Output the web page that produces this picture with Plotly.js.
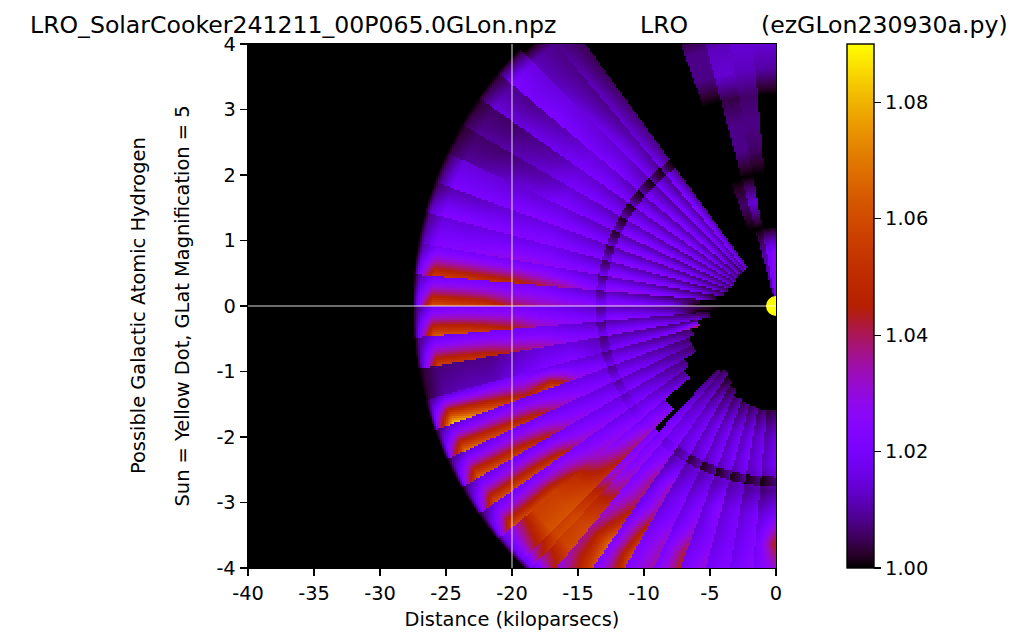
<!DOCTYPE html>
<html><head><meta charset="utf-8">
<script src="https://cdn.plot.ly/plotly-3.0.1.min.js"></script>
<style>html,body{margin:0;padding:0;background:#fff}#c{width:1024px;height:644px}</style></head>
<body><div id="c"></div>
<script>
const chartTitle = "LRO_SolarCooker241211_00P065.0GLon.npz";
const centerNote = "LRO";
const rightNote = "(ezGLon230930a.py)";
const xTitle = "Distance (kiloparsecs)";
const yTitleLines = ["Possible Galactic Atomic Hydrogen", "Sun = Yellow Dot, GLat Magnification = 5"];
const xTicks = [-40,-35,-30,-25,-20,-15,-10,-5,0];
const yTicks = [-4,-3,-2,-1,0,1,2,3,4];
const cbTicks = [1.00,1.02,1.04,1.06,1.08];

// radial sample positions (kpc along the display radius)
const radii = [2,4,6,8,10,12,14,16,18,20,22,24,26,27.1];
// sector edges, degrees above (+) or below (-) the Sun's line of sight
const sectorTop =    [90,85,80,75,54,50,45,40,35,30,25,20,15,10,5,0,-5,-10,-15,-20,-25,-30,-35,-40,-45,-47,-50,-55,-60,-65,-70,-75,-80,-85];
const sectorBottom = [85,80,75,70,50,45,40,35,30,25,20,15,10,5,0,-5,-10,-15,-20,-25,-30,-35,-40,-45,-47,-50,-55,-60,-65,-70,-75,-80,-85,-90];
const sectorInner =  [0,0,0,0,3.6,3.6,3.6,3.6,3.6,3.6,3.7,3.8,4,4.6,5.8,3.8,5,6,6.6,7,7,8,8.5,11,13,6.5,6.2,6.5,7,7.5,7.7,7.8,7.9,7.9];
// depth of the dark ring near 13.2 kpc in each sector
const ringDepth = [0,0,0,0,.9,.9,.9,.9,.9,.85,.8,.7,.6,.5,.4,.4,.4,.4,.4,.35,.3,.2,.1,.05,.05,.05,.2,.4,.7,.85,.9,.9,.9,.9];
// values are (brightness - 1) x 1000 along the upper edge of each sector
const upperEdge = [
[24,24,0,0,0,0,0,0,10,14,8,0,0,0],
[20,20,0,0,0,6,8,6,12,14,0,0,0,0],
[10,10,0,14,0,8,8,4,14,12,0,0,0,0],
[0,0,0,6,0,0,0,0,8,8,0,0,0,0],
[0,10,10,10,9,8,8,8,7,6,5,5,5,0],
[0,8,10,10,9,9,9,10,9,8,8,8,8,0],
[0,6,9,10,10,10,11,14,14,15,16,15,16,5],
[0,6,8,10,10,10,11,14,15,12,10,8,9,4],
[0,6,8,10,10,11,11,13,14,10,8,6,6,3],
[0,6,8,8,10,11,11,13,14,10,8,6,6,3],
[0,5,7,8,10,10,11,13,15,14,14,15,15,6],
[0,5,7,8,10,10,12,14,16,15,14,12,11,6],
[0,4,6,8,10,11,12,15,17,16,16,15,15,8],
[0,0,6,7,10,12,13,16,20,19,19,19,19,10],
[0,0,5,6,9,11,13,16,20,20,20,20,18,10],
[0,0,5,7,10,11,13,16,18,20,20,20,18,8],
[0,0,5,7,10,10,12,15,18,18,19,18,16,8],
[0,0,5,7,9,10,12,15,15,12,8,8,7,3],
[0,0,4,7,9,11,13,15,17,20,18,16,15,8],
[0,0,4,7,10,12,14,16,17,18,18,16,14,8],
[0,0,4,7,10,12,14,16,17,18,18,16,14,8],
[0,0,4,7,10,13,15,17,18,18,18,17,15,8],
[0,0,4,7,10,14,16,18,20,22,20,18,16,8],
[0,0,4,8,12,16,20,24,34,50,56,56,30,14],
[0,0,4,8,14,18,20,22,30,48,56,56,34,16],
[0,0,4,8,14,18,20,22,30,48,56,56,34,16],
[0,0,4,8,12,16,18,20,24,30,36,36,28,16],
[0,0,0,6,12,14,10,14,16,20,22,22,20,16],
[0,0,0,6,11,12,10,14,16,20,22,22,20,16],
[0,0,0,6,11,12,10,14,16,20,22,22,20,16],
[0,0,0,5,11,12,10,14,15,18,20,20,20,16],
[0,0,0,5,11,12,10,14,15,18,20,20,20,16],
[0,0,0,4,11,12,8,14,16,18,20,20,20,16],
[0,0,0,3,10,12,6,14,18,20,20,20,20,16]];
// same, along the lower edge of each sector
const lowerEdge = [
[24,24,0,0,0,0,0,0,10,14,8,0,0,0],
[20,20,0,0,0,6,8,6,12,14,0,0,0,0],
[10,10,0,14,0,8,8,4,14,12,0,0,0,0],
[0,0,0,6,0,0,0,0,8,8,0,0,0,0],
[0,20,24,26,26,22,18,15,14,13,12,10,8,0],
[0,18,24,25,26,22,20,20,18,16,14,12,12,0],
[0,16,24,25,25,22,20,22,20,21,22,20,22,8],
[0,16,22,25,25,24,22,22,20,18,17,15,15,6],
[0,16,22,25,25,24,22,22,20,15,12,10,9,5],
[0,16,22,25,26,26,22,22,22,16,14,11,9,5],
[0,14,20,25,26,26,24,24,24,24,22,21,21,8],
[0,12,20,25,26,27,24,24,25,24,24,24,24,14],
[0,10,20,25,26,28,26,26,28,30,27,25,24,12],
[0,0,18,25,28,30,27,36,42,50,52,54,55,22],
[0,0,0,20,24,28,28,32,36,42,54,58,62,22],
[0,0,0,18,22,26,24,28,34,46,54,60,64,20],
[0,0,14,20,24,26,24,28,36,42,50,54,57,16],
[0,0,45,22,22,22,16,24,22,18,12,12,10,4],
[0,0,8,15,20,22,24,30,60,46,58,70,85,35],
[0,0,6,12,18,22,24,26,35,50,56,62,70,30],
[0,0,6,12,18,22,24,26,32,47,56,60,66,28],
[0,0,6,10,16,22,24,28,34,52,58,60,62,24],
[0,0,8,12,18,24,26,30,34,47,58,58,60,24],
[0,0,6,12,20,28,35,42,50,58,62,62,40,18],
[0,0,6,12,18,24,26,30,38,52,60,60,44,20],
[0,0,6,12,18,24,26,30,38,52,60,60,44,20],
[0,0,8,14,18,22,26,38,40,52,68,60,50,20],
[0,0,0,14,20,22,18,34,36,52,60,50,40,20],
[0,0,0,12,20,22,16,22,26,34,36,36,30,20],
[0,0,0,12,20,22,16,24,30,44,44,40,30,20],
[0,0,0,10,20,22,16,28,24,30,32,30,30,20],
[0,0,0,10,20,22,14,22,22,24,26,26,26,20],
[0,0,0,8,18,20,12,22,24,26,26,26,26,20],
[0,0,0,6,16,20,10,22,46,30,30,30,30,20]];

const xRange=[-40,0], yRange=[-4,4];
const nx=264, ny=262, displayRatio=4.96;   // plot is 4.96x taller per y unit than per x unit
const xs=[],ys=[],z=[];
for(let i=0;i<nx;i++) xs.push(xRange[0]+(i+.5)*(xRange[1]-xRange[0])/nx);
for(let j=0;j<ny;j++) ys.push(yRange[0]+(j+.5)*(yRange[1]-yRange[0])/ny);
function radial(row,r){
  if(r>=27.5) return 0;
  if(r>=radii[13]) return row[13]*(27.5-r)/(27.5-radii[13]);
  if(r<radii[0]) return row[0];
  for(let k=0;k<13;k++) if(r<=radii[k+1]){
    const t=(r-radii[k])/(radii[k+1]-radii[k]);
    return row[k]+(row[k+1]-row[k])*t;
  }
  return 0;
}
for(const y of ys){
  const line=[];
  for(const x of xs){
    const dy=y*displayRatio, dx=-x, r=Math.hypot(dx,dy), a=Math.atan2(dy,dx)*180/Math.PI;
    let v=0;
    for(let s=0;s<sectorTop.length;s++){
      if(a<=sectorTop[s]&&a>sectorBottom[s]){
        if(r>=sectorInner[s]){
          const f=(sectorTop[s]-a)/(sectorTop[s]-sectorBottom[s]);
          const hi=radial(upperEdge[s],r), lo=radial(lowerEdge[s],r);
          v=hi+(lo-hi)*Math.pow(f,1.25);
          if(Math.abs(r-13.3)<.35) v*=1-ringDepth[s]*(1-.5*f);
        }
        break;
      }
    }
    line.push(1+v/1000);
  }
  z.push(line);
}
// matplotlib "gnuplot" colour table
const gnuplotStops=[];
for(let i=0;i<=40;i++){
  const t=i/40, R=Math.round(255*Math.sqrt(t)), G=Math.round(255*t*t*t), B=Math.round(255*Math.max(0,Math.sin(2*Math.PI*t)));
  gnuplotStops.push([t,`rgb(${R},${G},${B})`]);
}
const L=248,R=776,T=44,B=568;
const px=v=>(v-L)/(R-L);
const font={family:"DejaVu Sans",color:"#000"};
const fs=19.4, ts=23.6;
Plotly.newPlot("c",[
 {type:"heatmap",x:xs,y:ys,z:z,zmin:1,zmax:1.09,colorscale:gnuplotStops,zsmooth:false,hoverinfo:"skip",
  colorbar:{x:px(847),xanchor:"left",xref:"paper",y:0.5,yanchor:"middle",len:1,lenmode:"fraction",thickness:27,thicknessmode:"pixels",
    tickmode:"array",tickvals:cbTicks,ticktext:cbTicks.map(v=>v.toFixed(2)),ticks:"outside",ticklen:7,tickwidth:1.2,tickcolor:"#000",
    outlinecolor:"#000",outlinewidth:1.4,borderwidth:0,xpad:0,ypad:0,tickfont:{...font,size:fs}}},
 {type:"scatter",mode:"markers",x:[0],y:[0],marker:{color:"#ffff00",size:20,line:{width:0}},hoverinfo:"skip",showlegend:false}
],{
 width:1024,height:644,paper_bgcolor:"#fff",plot_bgcolor:"#000",showlegend:false,
 margin:{l:L,r:1024-R,t:T,b:644-B,pad:0},
 title:{text:chartTitle,font:{...font,size:ts},x:30/1024,xanchor:"left",xref:"container",y:1-25/644,yanchor:"middle"},
 xaxis:{range:xRange,tickmode:"array",tickvals:xTicks,ticktext:xTicks.map(String),ticks:"outside",ticklen:7,tickwidth:1.2,tickcolor:"#000",
   showgrid:false,zeroline:false,showline:true,mirror:true,linecolor:"#000",linewidth:1.4,tickfont:{...font,size:fs},
   title:{text:xTitle,font:{...font,size:fs},standoff:8}},
 yaxis:{range:yRange,tickmode:"array",tickvals:yTicks,ticktext:yTicks.map(String),ticks:"outside",ticklen:7,tickwidth:1.2,tickcolor:"#000",
   showgrid:false,zeroline:false,showline:true,mirror:true,linecolor:"#000",linewidth:1.4,tickfont:{...font,size:fs},
   title:{text:yTitleLines[1],font:{...font,size:fs},standoff:21}},
 shapes:[
  {type:"line",xref:"x",yref:"y",x0:-20,x1:-20,y0:-4,y1:4,line:{color:"rgba(255,255,255,.85)",width:1}},
  {type:"line",xref:"x",yref:"y",x0:-40,x1:0,y0:0,y1:0,line:{color:"rgba(255,255,255,.85)",width:1}}],
 annotations:[
  {text:yTitleLines[0],xref:"paper",yref:"paper",x:px(138),y:0.5,xanchor:"center",yanchor:"middle",textangle:-90,showarrow:false,font:{...font,size:fs}},
  {text:centerNote,xref:"paper",yref:"paper",x:px(664),y:1+19/524,xanchor:"center",yanchor:"middle",showarrow:false,font:{...font,size:ts}},
  {text:rightNote,xref:"paper",yref:"paper",x:px(1010),y:1+19/524,xanchor:"right",yanchor:"middle",showarrow:false,font:{...font,size:ts}}]
},{displayModeBar:false,staticPlot:true});
</script></body></html>
